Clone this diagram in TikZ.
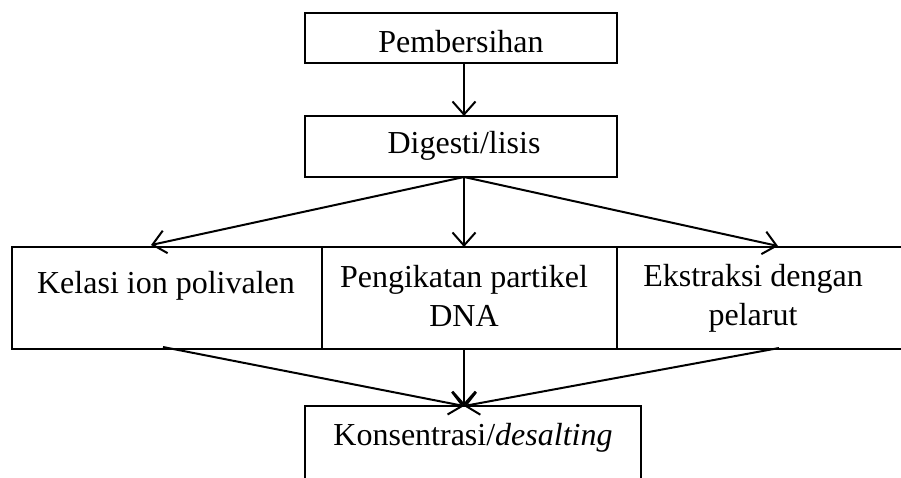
\documentclass[tikz,border=0pt]{standalone}
\usepackage{fontspec}
\setmainfont{Liberation Serif}
\usetikzlibrary{arrows.meta}
\begin{document}
\begin{tikzpicture}[x=1pt,y=-1pt,
  box/.style={draw,line width=1.5pt},
  lbl/.style={anchor=base,inner sep=0pt,font=\fontsize{32}{38}\selectfont},
  arr/.style={line width=2pt,-{Straight Barb[length=13pt,width=23pt,line width=2pt]}}]
\useasboundingbox (0,0) rectangle (901,478);
\clip (0,0) rectangle (901,478);
% boxes
\draw[box] (305,13) rectangle (617,63);
\draw[box] (305,116) rectangle (617,177);
\draw[box] (12,247) rectangle (322,349);
\draw[box] (322,247) rectangle (617,349);
\draw[box] (617,247) rectangle (915,349);
\draw[box] (305,406) rectangle (641,490);
% labels
\node[lbl] (p) at (461,53) {Pembersihan};
\node[lbl] (d) at (464,154) {Digesti/lisis};
\node[lbl] (k) at (166,293) {Kelasi ion polivalen};
\node[lbl] (g1) at (464,287) {Pengikatan partikel};
\node[lbl] (g2) at (464,326) {DNA};
\node[lbl] (e1) at (753,286) {Ekstraksi dengan};
\node[lbl] (e2) at (753,325) {pelarut};
\node[lbl] (c) at (473,445) {Konsentrasi/\textit{desalting}};
% connector coordinates
\coordinate (pb) at (464,63);
\coordinate (dt) at (464,116);
\coordinate (db) at (464,177);
\coordinate (kt) at (151,245);
\coordinate (gt) at (464,247);
\coordinate (et) at (778,246);
\coordinate (kb) at (163,347);
\coordinate (gb) at (464,349);
\coordinate (eb) at (779,348);
\coordinate (ct) at (464,406);
% arrows
\draw[arr] (pb) -- (dt);
\draw[arr] (db) -- (kt);
\draw[arr] (db) -- (gt);
\draw[arr] (db) -- (et);
\draw[arr] (kb) -- (ct);
\draw[arr] (gb) -- (ct);
\draw[arr] (eb) -- (ct);
\end{tikzpicture}
\end{document}
